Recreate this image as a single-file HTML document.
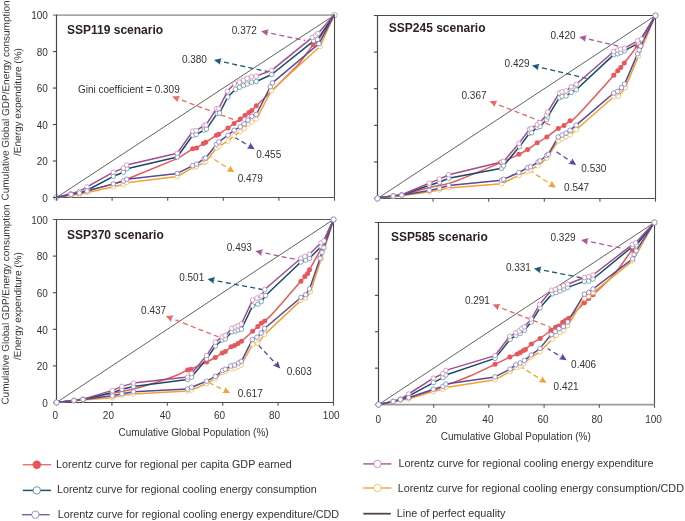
<!DOCTYPE html>
<html><head><meta charset="utf-8"><style>
html,body{margin:0;padding:0;background:#fff;}
body{width:685px;height:521px;overflow:hidden;}
svg{display:block;will-change:transform;}
.t{font-family:"Liberation Sans",sans-serif;font-size:10px;fill:#3b3131;}
.l{font-family:"Liberation Sans",sans-serif;font-size:10.8px;fill:#3b3131;}
.b{font-family:"Liberation Sans",sans-serif;font-size:12px;font-weight:bold;fill:#2e2222;}
</style></head><body>
<svg width="685" height="521" viewBox="0 0 685 521">
<g transform="translate(8.6 200.5) rotate(-89.72)"><text x="0" y="0" class="t">Cumulative Global GDP/Energy consumption</text><text x="44.65" y="12" class="t">/Energy expenditure (%)</text></g>
<g transform="translate(8.6 404.6) rotate(-89.72)"><text x="0" y="0" class="t">Cumulative Global GDP/Energy consumption</text><text x="44.65" y="12" class="t">/Energy expenditure (%)</text></g>
<circle cx="56.5" cy="197.5" r="2.7" fill="#fff" stroke="#8db4c8" stroke-width="0.9"/>
<circle cx="334.5" cy="15.1" r="2.7" fill="#fff" stroke="#8db4c8" stroke-width="0.9"/>
<line x1="56.5" y1="197.5" x2="334.5" y2="15.1" stroke="#3a3a3a" stroke-width="0.8"/>
<line x1="334.5" y1="15.1" x2="334.5" y2="197.5" stroke="#4a4a4a" stroke-width="1.1"/>
<line x1="52.9" y1="15.1" x2="334.5" y2="15.1" stroke="#a8a8a8" stroke-width="1.8"/>
<line x1="56.5" y1="197.5" x2="335" y2="197.5" stroke="#555" stroke-width="1.1"/>
<line x1="56.5" y1="14.6" x2="56.5" y2="198" stroke="#474747" stroke-width="1.2"/>
<line x1="52.9" y1="197.5" x2="56.5" y2="197.5" stroke="#474747" stroke-width="1.1"/>
<line x1="52.9" y1="161.02" x2="56.5" y2="161.02" stroke="#474747" stroke-width="1.1"/>
<line x1="52.9" y1="124.54" x2="56.5" y2="124.54" stroke="#474747" stroke-width="1.1"/>
<line x1="52.9" y1="88.06" x2="56.5" y2="88.06" stroke="#474747" stroke-width="1.1"/>
<line x1="52.9" y1="51.58" x2="56.5" y2="51.58" stroke="#474747" stroke-width="1.1"/>
<line x1="56.5" y1="197.5" x2="56.5" y2="200.7" stroke="#555" stroke-width="1.1"/>
<line x1="112.1" y1="197.5" x2="112.1" y2="200.7" stroke="#555" stroke-width="1.1"/>
<line x1="167.7" y1="197.5" x2="167.7" y2="200.7" stroke="#555" stroke-width="1.1"/>
<line x1="223.3" y1="197.5" x2="223.3" y2="200.7" stroke="#555" stroke-width="1.1"/>
<line x1="278.9" y1="197.5" x2="278.9" y2="200.7" stroke="#555" stroke-width="1.1"/>
<line x1="334.5" y1="197.5" x2="334.5" y2="200.7" stroke="#555" stroke-width="1.1"/>
<text x="47.9" y="201.7" text-anchor="end" class="t">0</text>
<text x="47.9" y="165.22" text-anchor="end" class="t">20</text>
<text x="47.9" y="128.74" text-anchor="end" class="t">40</text>
<text x="47.9" y="92.26" text-anchor="end" class="t">60</text>
<text x="47.9" y="55.78" text-anchor="end" class="t">80</text>
<text x="47.9" y="19.3" text-anchor="end" class="t">100</text>
<text x="67" y="33.7" class="b">SSP119 scenario</text>
<line x1="266.97" y1="32.44" x2="305" y2="40.5" stroke="#b0579b" stroke-width="1.3" stroke-dasharray="5 3.3" stroke-dashoffset="4"/><path d="M261.1 31.2 L268.85 29.37 L266.97 32.44 L267.44 36.02 Z" fill="#b0579b"/>
<text x="231.8" y="33.8" class="t">0.372</text>
<line x1="219.86" y1="61.27" x2="268" y2="71.7" stroke="#1d5878" stroke-width="1.3" stroke-dasharray="5 3.3" stroke-dashoffset="4"/><path d="M214 60 L221.76 58.2 L219.86 61.27 L220.32 64.85 Z" fill="#1d5878"/>
<text x="181.9" y="62.8" class="t">0.380</text>
<line x1="177.82" y1="98.7" x2="240" y2="122" stroke="#ef6666" stroke-width="1.3" stroke-dasharray="5 3.3" stroke-dashoffset="4"/><path d="M172.2 96.6 L180.14 95.94 L177.82 98.7 L177.75 102.31 Z" fill="#ef6666"/>
<text x="77.9" y="92.6" class="t">Gini coefficient = 0.309</text>
<line x1="249.54" y1="146.14" x2="235" y2="137.5" stroke="#4e4c9c" stroke-width="1.3" stroke-dasharray="5 3.3" stroke-dashoffset="4"/><path d="M254.7 149.2 L246.77 148.45 L249.54 146.14 L250.25 142.6 Z" fill="#4e4c9c"/>
<text x="256.2" y="158.2" class="t">0.455</text>
<line x1="229.26" y1="169.04" x2="211" y2="157.2" stroke="#f3a232" stroke-width="1.3" stroke-dasharray="5 3.3" stroke-dashoffset="4"/><path d="M234.3 172.3 L226.41 171.24 L229.26 169.04 L230.11 165.53 Z" fill="#f3a232"/>
<text x="237.7" y="182" class="t">0.479</text>
<polyline fill="none" stroke="#e8585a" stroke-width="1.5" stroke-linejoin="round" points="56.6,197.4 71,194.5 79.4,193 87,191 113.4,183.9 123.4,181 126.6,179.2 177.7,158.4 192.7,148.8 196.5,148 203.4,143.4 205.7,142.3 216.5,135.2 218.8,134.2 228,128 234.1,123.4 240.3,119.1 245.1,115.3 248.9,112.4 251.8,110.5 256.3,105.8 271.7,91 298,65 313.2,44.7 317.5,41.5 334.4,14.6"/>
<polyline fill="none" stroke="#124c6a" stroke-width="1.5" stroke-linejoin="round" points="56.6,197.4 71,194.6 79.4,193 87.7,190 113.4,176.3 123.4,172.2 126.9,168.7 177.3,157 192.7,135.2 196.2,134.6 204.2,130 206.5,129.1 217.2,113.4 219.5,113.1 227.8,97 235.5,89.3 239.6,87.3 243.4,85.5 247.2,84.1 251.6,82.2 256.3,81.5 271.7,74.5 313.7,40.8 317.6,39.5 334.4,14.6"/>
<polyline fill="none" stroke="#a84a8f" stroke-width="1.5" stroke-linejoin="round" points="56.6,197.4 71,193.6 79.4,191.4 87,186.9 113.4,172.2 123.4,168.1 126.6,165 177.3,153.3 192.7,131.1 196.2,130.6 204.2,125.4 206,125 216.5,108.8 218.8,108.5 227.4,91.3 234.4,83.8 239.3,82.1 243.4,80 247.2,78.3 251.6,76.8 256.2,76.1 271.7,70.3 312.3,37.4 315.6,35.5 318,33.6 334.4,14.6"/>
<polyline fill="none" stroke="#f2a22e" stroke-width="1.5" stroke-linejoin="round" points="56.6,197.4 71,195 79.4,194.6 87.7,192.4 113.4,186.8 123.4,184.5 126.6,182.7 177.3,176.6 193.4,167.2 196.5,166.4 204.2,162.6 205.7,161.8 216.5,148 218.8,146.4 228,141.1 234.1,135.7 240.3,131.6 244.1,128.7 248,123.9 251.8,122 256.3,119.3 271.3,90.7 320,46.5 334.4,14.6"/>
<polyline fill="none" stroke="#574a99" stroke-width="1.5" stroke-linejoin="round" points="56.6,197.4 71,194.5 79.4,193 87,191 113.4,183.9 123.4,181 126.6,179.2 177.3,173.4 192.7,165.7 196.5,164.1 204.2,158.7 205.7,158 216.5,144.2 218.8,141.9 228,135.2 234.1,130.3 240.3,126.8 244.1,123.9 248,120.1 251.8,116.2 256.3,114.5 270.3,86.8 272.4,82.9 319,43.7 334.4,14.6"/>
<g fill="#e8585a"><circle cx="192.7" cy="148.8" r="2.5"/><circle cx="196.5" cy="148" r="2.5"/><circle cx="203.4" cy="143.4" r="2.5"/><circle cx="205.7" cy="142.3" r="2.5"/><circle cx="216.5" cy="135.2" r="2.5"/><circle cx="218.8" cy="134.2" r="2.5"/><circle cx="228" cy="128" r="2.5"/><circle cx="234.1" cy="123.4" r="2.5"/><circle cx="240.3" cy="119.1" r="2.5"/><circle cx="245.1" cy="115.3" r="2.5"/><circle cx="248.9" cy="112.4" r="2.5"/><circle cx="251.8" cy="110.5" r="2.5"/><circle cx="256.3" cy="105.8" r="2.5"/><circle cx="313.2" cy="44.7" r="2.5"/><circle cx="317.5" cy="41.5" r="2.5"/></g>
<g fill="#fff" stroke="#5f8ca4" stroke-width="0.75"><circle cx="71" cy="194.6" r="2.3"/><circle cx="79.4" cy="193" r="2.3"/><circle cx="87.7" cy="190" r="2.3"/><circle cx="113.4" cy="176.3" r="2.3"/><circle cx="123.4" cy="172.2" r="2.3"/><circle cx="126.9" cy="168.7" r="2.3"/><circle cx="177.3" cy="157" r="2.3"/><circle cx="192.7" cy="135.2" r="2.3"/><circle cx="196.2" cy="134.6" r="2.3"/><circle cx="204.2" cy="130" r="2.3"/><circle cx="206.5" cy="129.1" r="2.3"/><circle cx="217.2" cy="113.4" r="2.3"/><circle cx="219.5" cy="113.1" r="2.3"/><circle cx="227.8" cy="97" r="2.3"/><circle cx="235.5" cy="89.3" r="2.3"/><circle cx="239.6" cy="87.3" r="2.3"/><circle cx="243.4" cy="85.5" r="2.3"/><circle cx="247.2" cy="84.1" r="2.3"/><circle cx="251.6" cy="82.2" r="2.3"/><circle cx="256.3" cy="81.5" r="2.3"/><circle cx="271.7" cy="74.5" r="2.3"/><circle cx="313.7" cy="40.8" r="2.3"/><circle cx="317.6" cy="39.5" r="2.3"/></g>
<g fill="#fff" stroke="#c585b4" stroke-width="0.75"><circle cx="71" cy="193.6" r="2.3"/><circle cx="79.4" cy="191.4" r="2.3"/><circle cx="87" cy="186.9" r="2.3"/><circle cx="113.4" cy="172.2" r="2.3"/><circle cx="123.4" cy="168.1" r="2.3"/><circle cx="126.6" cy="165" r="2.3"/><circle cx="177.3" cy="153.3" r="2.3"/><circle cx="192.7" cy="131.1" r="2.3"/><circle cx="196.2" cy="130.6" r="2.3"/><circle cx="204.2" cy="125.4" r="2.3"/><circle cx="206" cy="125" r="2.3"/><circle cx="216.5" cy="108.8" r="2.3"/><circle cx="218.8" cy="108.5" r="2.3"/><circle cx="227.4" cy="91.3" r="2.3"/><circle cx="234.4" cy="83.8" r="2.3"/><circle cx="239.3" cy="82.1" r="2.3"/><circle cx="243.4" cy="80" r="2.3"/><circle cx="247.2" cy="78.3" r="2.3"/><circle cx="251.6" cy="76.8" r="2.3"/><circle cx="256.2" cy="76.1" r="2.3"/><circle cx="271.7" cy="70.3" r="2.3"/><circle cx="312.3" cy="37.4" r="2.3"/><circle cx="315.6" cy="35.5" r="2.3"/><circle cx="318" cy="33.6" r="2.3"/></g>
<g fill="#fff" stroke="#f3b860" stroke-width="0.75"><circle cx="71" cy="195" r="2.3"/><circle cx="79.4" cy="194.6" r="2.3"/><circle cx="87.7" cy="192.4" r="2.3"/><circle cx="113.4" cy="186.8" r="2.3"/><circle cx="123.4" cy="184.5" r="2.3"/><circle cx="126.6" cy="182.7" r="2.3"/><circle cx="177.3" cy="176.6" r="2.3"/><circle cx="193.4" cy="167.2" r="2.3"/><circle cx="196.5" cy="166.4" r="2.3"/><circle cx="204.2" cy="162.6" r="2.3"/><circle cx="205.7" cy="161.8" r="2.3"/><circle cx="216.5" cy="148" r="2.3"/><circle cx="218.8" cy="146.4" r="2.3"/><circle cx="228" cy="141.1" r="2.3"/><circle cx="234.1" cy="135.7" r="2.3"/><circle cx="240.3" cy="131.6" r="2.3"/><circle cx="244.1" cy="128.7" r="2.3"/><circle cx="248" cy="123.9" r="2.3"/><circle cx="251.8" cy="122" r="2.3"/><circle cx="256.3" cy="119.3" r="2.3"/><circle cx="271.3" cy="90.7" r="2.3"/><circle cx="320" cy="46.5" r="2.3"/></g>
<g fill="#fff" stroke="#7d74bb" stroke-width="0.75"><circle cx="71" cy="194.5" r="2.3"/><circle cx="79.4" cy="193" r="2.3"/><circle cx="87" cy="191" r="2.3"/><circle cx="113.4" cy="183.9" r="2.3"/><circle cx="123.4" cy="181" r="2.3"/><circle cx="126.6" cy="179.2" r="2.3"/><circle cx="177.3" cy="173.4" r="2.3"/><circle cx="192.7" cy="165.7" r="2.3"/><circle cx="196.5" cy="164.1" r="2.3"/><circle cx="204.2" cy="158.7" r="2.3"/><circle cx="205.7" cy="158" r="2.3"/><circle cx="216.5" cy="144.2" r="2.3"/><circle cx="218.8" cy="141.9" r="2.3"/><circle cx="228" cy="135.2" r="2.3"/><circle cx="234.1" cy="130.3" r="2.3"/><circle cx="240.3" cy="126.8" r="2.3"/><circle cx="244.1" cy="123.9" r="2.3"/><circle cx="248" cy="120.1" r="2.3"/><circle cx="251.8" cy="116.2" r="2.3"/><circle cx="256.3" cy="114.5" r="2.3"/><circle cx="270.3" cy="86.8" r="2.3"/><circle cx="272.4" cy="82.9" r="2.3"/><circle cx="319" cy="43.7" r="2.3"/></g>
<line x1="377.5" y1="198.5" x2="655.5" y2="15.5" stroke="#3a3a3a" stroke-width="0.8"/>
<line x1="655.5" y1="15.5" x2="655.5" y2="198.5" stroke="#4a4a4a" stroke-width="1.1"/>
<line x1="373.9" y1="15.5" x2="655.5" y2="15.5" stroke="#4a4a4a" stroke-width="1.1"/>
<line x1="377.5" y1="198.5" x2="656" y2="198.5" stroke="#555" stroke-width="1.1"/>
<line x1="377.5" y1="15" x2="377.5" y2="199" stroke="#474747" stroke-width="1.2"/>
<line x1="373.9" y1="198.5" x2="377.5" y2="198.5" stroke="#474747" stroke-width="1.1"/>
<line x1="373.9" y1="161.9" x2="377.5" y2="161.9" stroke="#474747" stroke-width="1.1"/>
<line x1="373.9" y1="125.3" x2="377.5" y2="125.3" stroke="#474747" stroke-width="1.1"/>
<line x1="373.9" y1="88.7" x2="377.5" y2="88.7" stroke="#474747" stroke-width="1.1"/>
<line x1="373.9" y1="52.1" x2="377.5" y2="52.1" stroke="#474747" stroke-width="1.1"/>
<line x1="377.5" y1="198.5" x2="377.5" y2="201.7" stroke="#555" stroke-width="1.1"/>
<line x1="433.1" y1="198.5" x2="433.1" y2="201.7" stroke="#555" stroke-width="1.1"/>
<line x1="488.7" y1="198.5" x2="488.7" y2="201.7" stroke="#555" stroke-width="1.1"/>
<line x1="544.3" y1="198.5" x2="544.3" y2="201.7" stroke="#555" stroke-width="1.1"/>
<line x1="599.9" y1="198.5" x2="599.9" y2="201.7" stroke="#555" stroke-width="1.1"/>
<line x1="655.5" y1="198.5" x2="655.5" y2="201.7" stroke="#555" stroke-width="1.1"/>
<text x="388.8" y="32" class="b">SSP245 scenario</text>
<line x1="584.94" y1="38.27" x2="620" y2="46.5" stroke="#b0579b" stroke-width="1.3" stroke-dasharray="5 3.3" stroke-dashoffset="4"/><path d="M579.1 36.9 L586.89 35.24 L584.94 38.27 L585.33 41.86 Z" fill="#b0579b"/>
<text x="550.5" y="39.4" class="t">0.420</text>
<line x1="537.74" y1="66.78" x2="586.5" y2="78.3" stroke="#1d5878" stroke-width="1.3" stroke-dasharray="5 3.3" stroke-dashoffset="4"/><path d="M531.9 65.4 L539.69 63.75 L537.74 66.78 L538.13 70.36 Z" fill="#1d5878"/>
<text x="504.6" y="67.1" class="t">0.429</text>
<line x1="495.09" y1="103.49" x2="553.1" y2="126.2" stroke="#ef6666" stroke-width="1.3" stroke-dasharray="5 3.3" stroke-dashoffset="4"/><path d="M489.5 101.3 L497.44 100.76 L495.09 103.49 L494.96 107.09 Z" fill="#ef6666"/>
<text x="461.5" y="99.2" class="t">0.367</text>
<line x1="571.21" y1="161.67" x2="554.3" y2="150.4" stroke="#4e4c9c" stroke-width="1.3" stroke-dasharray="5 3.3" stroke-dashoffset="4"/><path d="M576.2 165 L568.32 163.84 L571.21 161.67 L572.1 158.18 Z" fill="#4e4c9c"/>
<text x="581.3" y="172.3" class="t">0.530</text>
<line x1="550.81" y1="184.37" x2="531.7" y2="171.6" stroke="#f3a232" stroke-width="1.3" stroke-dasharray="5 3.3" stroke-dashoffset="4"/><path d="M555.8 187.7 L547.92 186.53 L550.81 184.37 L551.7 180.87 Z" fill="#f3a232"/>
<text x="564.1" y="191.3" class="t">0.547</text>
<path fill="none" stroke="#e8585a" stroke-width="1.5" d="M377.4 198 C380.03 197.72 389.15 196.75 393.2 196.3 C397.25 195.85 395.68 196.78 401.7 195.3 C407.72 193.82 421.47 189.37 429.3 187.4 C437.13 185.43 441.92 185.5 448.7 183.5 C455.48 181.5 461.33 178.88 470 175.4 C478.67 171.92 492.55 166.12 500.7 162.6 C508.85 159.08 514.42 156.48 518.9 154.3 C523.38 152.12 524.55 151.42 527.6 149.5 C530.65 147.58 534 144.88 537.2 142.8 C540.4 140.72 543.28 139.4 546.8 137 C550.32 134.6 555.43 130.32 558.3 128.4 C561.17 126.48 562.05 126.78 564 125.5 C565.95 124.22 567.97 122.17 570 120.7 C572.03 119.23 568.9 124.27 576.2 116.7 C583.5 109.13 606.88 82.97 613.8 75.3 C620.72 67.63 616.55 71.98 617.7 70.7 C618.85 69.42 619.6 68.88 620.7 67.6 C621.8 66.32 621.6 66.58 624.3 63 C627 59.42 631.7 54.02 636.9 46.1 C642.1 38.18 652.4 20.6 655.5 15.5"/>
<polyline fill="none" stroke="#124c6a" stroke-width="1.5" stroke-linejoin="round" points="377.4,198 393.2,196 401.7,195 429.3,185.3 439.5,182.3 448.7,178.2 501.7,168.3 503.6,165.8 519.5,146.6 529.5,133.2 531.4,132.6 537.2,127.4 540,126.5 546.4,119.8 547.7,116.9 559.3,97.7 562.1,96.5 566,96 571.2,92.3 576.2,89.8 613.8,54.6 617.7,53.8 620.7,52.5 624.6,50.7 638.4,43.1 655.5,15.5"/>
<polyline fill="none" stroke="#a84a8f" stroke-width="1.5" stroke-linejoin="round" points="377.4,198 393.2,195.8 401.7,194.7 429.3,183.1 439.5,179.1 448.7,174.7 501.7,162 503.6,161.4 518.9,143.4 529.5,129.3 531.4,128.4 537.2,124.5 540,122.6 546.4,115 547.7,112.1 559.3,92.9 562.1,91.9 566,91 571.2,86.8 576.2,84.3 613.8,51.5 617.7,50 620.7,49.2 624.6,48.1 637.6,40.8 641.5,38.9 655.5,15.5"/>
<polyline fill="none" stroke="#f2a22e" stroke-width="1.5" stroke-linejoin="round" points="377.4,198 393.2,196.5 401.7,195.7 429.3,191.8 439.5,189.9 448.7,187.9 501.7,183.7 518.9,175.4 527.6,171.6 530.5,169.7 538.1,165.8 546.8,158.1 558.3,140.9 562.1,138.9 566,137 570,135.1 576.2,129.7 613.8,96.8 618.4,96.4 625.3,87.6 638.4,56.1 655.5,15.5"/>
<polyline fill="none" stroke="#574a99" stroke-width="1.5" stroke-linejoin="round" points="377.4,198 393.2,196 401.7,195.2 429.3,190.4 439.5,188.2 448.7,185.5 501.7,180.2 503.6,179.3 518.9,172.5 527.6,167.7 530.5,166.8 538.1,162 540,161 546.8,155.3 548.3,154.3 558.3,137 562.1,135.1 566,133.2 570,130.3 576.2,125.2 613.8,93 617.7,91.4 621.5,87.6 624.6,84.1 637.6,53.8 639.2,50 640.7,46.1 655.5,15.5"/>
<g fill="#e8585a"><circle cx="500.7" cy="162.6" r="2.5"/><circle cx="518.9" cy="154.3" r="2.5"/><circle cx="527.6" cy="149.5" r="2.5"/><circle cx="537.2" cy="142.8" r="2.5"/><circle cx="546.8" cy="137" r="2.5"/><circle cx="558.3" cy="128.4" r="2.5"/><circle cx="564" cy="125.5" r="2.5"/><circle cx="570" cy="120.7" r="2.5"/><circle cx="613.8" cy="75.3" r="2.5"/><circle cx="617.7" cy="70.7" r="2.5"/><circle cx="620.7" cy="67.6" r="2.5"/><circle cx="624.3" cy="63" r="2.5"/><circle cx="636.9" cy="46.1" r="2.5"/></g>
<g fill="#fff" stroke="#5f8ca4" stroke-width="0.75"><circle cx="393.2" cy="196" r="2.3"/><circle cx="401.7" cy="195" r="2.3"/><circle cx="429.3" cy="185.3" r="2.3"/><circle cx="439.5" cy="182.3" r="2.3"/><circle cx="448.7" cy="178.2" r="2.3"/><circle cx="501.7" cy="168.3" r="2.3"/><circle cx="503.6" cy="165.8" r="2.3"/><circle cx="519.5" cy="146.6" r="2.3"/><circle cx="529.5" cy="133.2" r="2.3"/><circle cx="531.4" cy="132.6" r="2.3"/><circle cx="537.2" cy="127.4" r="2.3"/><circle cx="540" cy="126.5" r="2.3"/><circle cx="546.4" cy="119.8" r="2.3"/><circle cx="547.7" cy="116.9" r="2.3"/><circle cx="559.3" cy="97.7" r="2.3"/><circle cx="562.1" cy="96.5" r="2.3"/><circle cx="566" cy="96" r="2.3"/><circle cx="571.2" cy="92.3" r="2.3"/><circle cx="576.2" cy="89.8" r="2.3"/><circle cx="613.8" cy="54.6" r="2.3"/><circle cx="617.7" cy="53.8" r="2.3"/><circle cx="620.7" cy="52.5" r="2.3"/><circle cx="624.6" cy="50.7" r="2.3"/><circle cx="638.4" cy="43.1" r="2.3"/></g>
<g fill="#fff" stroke="#c585b4" stroke-width="0.75"><circle cx="393.2" cy="195.8" r="2.3"/><circle cx="401.7" cy="194.7" r="2.3"/><circle cx="429.3" cy="183.1" r="2.3"/><circle cx="439.5" cy="179.1" r="2.3"/><circle cx="448.7" cy="174.7" r="2.3"/><circle cx="501.7" cy="162" r="2.3"/><circle cx="503.6" cy="161.4" r="2.3"/><circle cx="518.9" cy="143.4" r="2.3"/><circle cx="529.5" cy="129.3" r="2.3"/><circle cx="531.4" cy="128.4" r="2.3"/><circle cx="537.2" cy="124.5" r="2.3"/><circle cx="540" cy="122.6" r="2.3"/><circle cx="546.4" cy="115" r="2.3"/><circle cx="547.7" cy="112.1" r="2.3"/><circle cx="559.3" cy="92.9" r="2.3"/><circle cx="562.1" cy="91.9" r="2.3"/><circle cx="566" cy="91" r="2.3"/><circle cx="571.2" cy="86.8" r="2.3"/><circle cx="576.2" cy="84.3" r="2.3"/><circle cx="613.8" cy="51.5" r="2.3"/><circle cx="617.7" cy="50" r="2.3"/><circle cx="620.7" cy="49.2" r="2.3"/><circle cx="624.6" cy="48.1" r="2.3"/><circle cx="637.6" cy="40.8" r="2.3"/><circle cx="641.5" cy="38.9" r="2.3"/></g>
<g fill="#fff" stroke="#f3b860" stroke-width="0.75"><circle cx="393.2" cy="196.5" r="2.3"/><circle cx="401.7" cy="195.7" r="2.3"/><circle cx="429.3" cy="191.8" r="2.3"/><circle cx="439.5" cy="189.9" r="2.3"/><circle cx="448.7" cy="187.9" r="2.3"/><circle cx="501.7" cy="183.7" r="2.3"/><circle cx="518.9" cy="175.4" r="2.3"/><circle cx="527.6" cy="171.6" r="2.3"/><circle cx="530.5" cy="169.7" r="2.3"/><circle cx="538.1" cy="165.8" r="2.3"/><circle cx="546.8" cy="158.1" r="2.3"/><circle cx="558.3" cy="140.9" r="2.3"/><circle cx="562.1" cy="138.9" r="2.3"/><circle cx="566" cy="137" r="2.3"/><circle cx="570" cy="135.1" r="2.3"/><circle cx="576.2" cy="129.7" r="2.3"/><circle cx="613.8" cy="96.8" r="2.3"/><circle cx="618.4" cy="96.4" r="2.3"/><circle cx="625.3" cy="87.6" r="2.3"/><circle cx="638.4" cy="56.1" r="2.3"/></g>
<g fill="#fff" stroke="#7d74bb" stroke-width="0.75"><circle cx="393.2" cy="196" r="2.3"/><circle cx="401.7" cy="195.2" r="2.3"/><circle cx="429.3" cy="190.4" r="2.3"/><circle cx="439.5" cy="188.2" r="2.3"/><circle cx="448.7" cy="185.5" r="2.3"/><circle cx="501.7" cy="180.2" r="2.3"/><circle cx="503.6" cy="179.3" r="2.3"/><circle cx="518.9" cy="172.5" r="2.3"/><circle cx="527.6" cy="167.7" r="2.3"/><circle cx="530.5" cy="166.8" r="2.3"/><circle cx="538.1" cy="162" r="2.3"/><circle cx="540" cy="161" r="2.3"/><circle cx="546.8" cy="155.3" r="2.3"/><circle cx="548.3" cy="154.3" r="2.3"/><circle cx="558.3" cy="137" r="2.3"/><circle cx="562.1" cy="135.1" r="2.3"/><circle cx="566" cy="133.2" r="2.3"/><circle cx="570" cy="130.3" r="2.3"/><circle cx="576.2" cy="125.2" r="2.3"/><circle cx="613.8" cy="93" r="2.3"/><circle cx="617.7" cy="91.4" r="2.3"/><circle cx="621.5" cy="87.6" r="2.3"/><circle cx="624.6" cy="84.1" r="2.3"/><circle cx="637.6" cy="53.8" r="2.3"/><circle cx="639.2" cy="50" r="2.3"/><circle cx="640.7" cy="46.1" r="2.3"/></g>
<circle cx="377.5" cy="198.5" r="2.7" fill="#fff" stroke="#7f77bd" stroke-width="0.9"/>
<circle cx="655.5" cy="15.5" r="2.7" fill="#fff" stroke="#7f77bd" stroke-width="0.9"/>
<line x1="56.5" y1="402.5" x2="333.5" y2="219.5" stroke="#3a3a3a" stroke-width="0.8"/>
<line x1="333.5" y1="219.5" x2="333.5" y2="402.5" stroke="#4a4a4a" stroke-width="1.1"/>
<line x1="52.9" y1="219.5" x2="333.5" y2="219.5" stroke="#5a5a5a" stroke-width="1.2"/>
<line x1="56.5" y1="402.5" x2="334" y2="402.5" stroke="#444" stroke-width="1.1"/>
<line x1="56.5" y1="219" x2="56.5" y2="403" stroke="#474747" stroke-width="1.2"/>
<line x1="52.9" y1="402.5" x2="56.5" y2="402.5" stroke="#474747" stroke-width="1.1"/>
<line x1="52.9" y1="365.9" x2="56.5" y2="365.9" stroke="#474747" stroke-width="1.1"/>
<line x1="52.9" y1="329.3" x2="56.5" y2="329.3" stroke="#474747" stroke-width="1.1"/>
<line x1="52.9" y1="292.7" x2="56.5" y2="292.7" stroke="#474747" stroke-width="1.1"/>
<line x1="52.9" y1="256.1" x2="56.5" y2="256.1" stroke="#474747" stroke-width="1.1"/>
<line x1="56.5" y1="402.5" x2="56.5" y2="405.7" stroke="#555" stroke-width="1.1"/>
<line x1="111.9" y1="402.5" x2="111.9" y2="405.7" stroke="#555" stroke-width="1.1"/>
<line x1="167.3" y1="402.5" x2="167.3" y2="405.7" stroke="#555" stroke-width="1.1"/>
<line x1="222.7" y1="402.5" x2="222.7" y2="405.7" stroke="#555" stroke-width="1.1"/>
<line x1="278.1" y1="402.5" x2="278.1" y2="405.7" stroke="#555" stroke-width="1.1"/>
<line x1="333.5" y1="402.5" x2="333.5" y2="405.7" stroke="#555" stroke-width="1.1"/>
<text x="47.9" y="406.7" text-anchor="end" class="t">0</text>
<text x="47.9" y="370.1" text-anchor="end" class="t">20</text>
<text x="47.9" y="333.5" text-anchor="end" class="t">40</text>
<text x="47.9" y="296.9" text-anchor="end" class="t">60</text>
<text x="47.9" y="260.3" text-anchor="end" class="t">80</text>
<text x="47.9" y="223.7" text-anchor="end" class="t">100</text>
<text x="55.4" y="419.4" text-anchor="middle" class="t">0</text>
<text x="108.4" y="419.4" text-anchor="middle" class="t">20</text>
<text x="165.2" y="419.4" text-anchor="middle" class="t">40</text>
<text x="219.6" y="419.4" text-anchor="middle" class="t">60</text>
<text x="274.6" y="419.4" text-anchor="middle" class="t">80</text>
<text x="331.2" y="419.4" text-anchor="middle" class="t">100</text>
<text x="193.6" y="436.3" text-anchor="middle" class="t">Cumulative Global Population (%)</text>
<text x="67" y="238.7" class="b">SSP370 scenario</text>
<line x1="261.18" y1="252.31" x2="297.5" y2="259.8" stroke="#b0579b" stroke-width="1.3" stroke-dasharray="5 3.3" stroke-dashoffset="4"/><path d="M255.3 251.1 L263.04 249.22 L261.18 252.31 L261.67 255.88 Z" fill="#b0579b"/>
<text x="226.8" y="251" class="t">0.493</text>
<line x1="213.39" y1="280.22" x2="262.8" y2="289.6" stroke="#1d5878" stroke-width="1.3" stroke-dasharray="5 3.3" stroke-dashoffset="4"/><path d="M207.5 279.1 L215.21 277.1 L213.39 280.22 L213.94 283.78 Z" fill="#1d5878"/>
<text x="179.2" y="281" class="t">0.501</text>
<line x1="171.38" y1="318.31" x2="226.5" y2="340.1" stroke="#ef6666" stroke-width="1.3" stroke-dasharray="5 3.3" stroke-dashoffset="4"/><path d="M165.8 316.1 L173.75 315.59 L171.38 318.31 L171.25 321.91 Z" fill="#ef6666"/>
<text x="141.1" y="314" class="t">0.437</text>
<line x1="276.2" y1="364.12" x2="258.6" y2="345.3" stroke="#4e4c9c" stroke-width="1.3" stroke-dasharray="5 3.3" stroke-dashoffset="4"/><path d="M280.3 368.5 L272.9 365.56 L276.2 364.12 L277.86 360.92 Z" fill="#4e4c9c"/>
<text x="286.7" y="375" class="t">0.603</text>
<line x1="224.81" y1="390.46" x2="209.6" y2="383" stroke="#f3a232" stroke-width="1.3" stroke-dasharray="5 3.3" stroke-dashoffset="4"/><path d="M230.2 393.1 L222.24 392.98 L224.81 390.46 L225.23 386.88 Z" fill="#f3a232"/>
<text x="237.7" y="396.6" class="t">0.617</text>
<path fill="none" stroke="#e8585a" stroke-width="1.5" d="M56.8 402.6 C59.67 402.25 69.63 401.02 74 400.5 C78.37 399.98 76.6 400.7 83 399.5 C89.4 398.3 104 395.05 112.4 393.3 C120.8 391.55 127.4 390.42 133.4 389 C139.4 387.58 144.18 386.03 148.4 384.8 C152.62 383.57 155.28 382.68 158.7 381.6 C162.12 380.52 165.5 379.52 168.9 378.3 C172.3 377.08 175.98 375.7 179.1 374.3 C182.22 372.9 185.67 370.75 187.6 369.9 C189.53 369.05 187.53 370.5 190.7 369.2 C193.87 367.9 202.5 364.05 206.6 362.1 C210.7 360.15 212.7 359.02 215.3 357.5 C217.9 355.98 220.53 354 222.2 353 C223.87 352 223.83 352.53 225.3 351.5 C226.77 350.47 229.47 347.8 231 346.8 C232.53 345.8 233.33 346.07 234.5 345.5 C235.67 344.93 236.85 344.1 238 343.4 C239.15 342.7 238.97 343.32 241.4 341.3 C243.83 339.28 249.87 333.75 252.6 331.3 C255.33 328.85 256.35 327.95 257.8 326.6 C259.25 325.25 260.15 324.12 261.3 323.2 C262.45 322.28 262.42 323.13 264.7 321.1 C266.98 319.07 268.97 317.65 275 311 C281.03 304.35 295.93 286.97 300.9 281.2 C305.87 275.43 303.68 277.68 304.8 276.4 C305.92 275.12 306.82 274.62 307.6 273.5 C308.38 272.38 307.1 274.17 309.5 269.7 C311.9 265.23 317.97 255.08 322 246.7 C326.03 238.32 331.75 223.95 333.7 219.4"/>
<polyline fill="none" stroke="#124c6a" stroke-width="1.5" stroke-linejoin="round" points="56.8,402.6 74,400.5 83,399.5 112.4,392.6 121.9,389.3 133.4,386.4 187.6,379.6 191.5,377.1 206.6,359 215.3,346.1 222.2,340 225.3,339 231.9,331.8 235.4,331 238,330 241.4,329.2 252.6,305.9 257.8,304.2 261.3,301.6 265.6,295.5 300.9,262 305.7,260.1 309.5,258.2 321.1,246.7 333.7,219.4"/>
<polyline fill="none" stroke="#a84a8f" stroke-width="1.5" stroke-linejoin="round" points="56.8,402.6 74,400.3 83,399.1 112.4,390.4 121.9,386.4 133.4,383.1 187.6,377.1 191.5,373.5 206.6,355.6 215.3,342.2 222.2,336.9 225.3,335.4 231.9,328.4 235.4,327 238,325.8 241.4,324 252.6,299.9 257,298.1 261.3,295.9 264.7,289.5 300.9,258.2 304.8,256.3 309.5,254.3 321.1,242.8 323.9,240.9 333.7,219.4"/>
<polyline fill="none" stroke="#f2a22e" stroke-width="1.5" stroke-linejoin="round" points="56.8,402.6 74,400.8 83,400 112.4,397.7 121.9,395.2 133.4,394 187.6,391 191.5,390 206.6,383.6 215.3,378.7 222.5,372.5 225.3,371.5 231.3,369 235,368 238.5,366.5 241.2,365 252.8,344.2 257.8,343.3 264.5,334.6 300.9,300.4 305.7,298 310.5,291.8 321.1,259.1 333.7,219.4"/>
<polyline fill="none" stroke="#574a99" stroke-width="1.5" stroke-linejoin="round" points="56.8,402.6 74,400.5 83,399.5 112.4,395.8 121.9,393.7 133.4,391.8 187.6,389.1 191.5,387.3 206.6,381.2 215.3,376.4 222.5,370.5 225.3,369.3 230.8,366 234.5,365 238.5,362.9 241.4,361.3 252.4,339.6 257,337.2 261.2,333 264.5,328.5 300.9,297.5 305.7,294.7 309.5,288.9 320.1,258.2 322,252.4 323.9,247.6 333.7,219.4"/>
<g fill="#e8585a"><circle cx="187.6" cy="369.9" r="2.5"/><circle cx="190.7" cy="369.2" r="2.5"/><circle cx="206.6" cy="362.1" r="2.5"/><circle cx="215.3" cy="357.5" r="2.5"/><circle cx="222.2" cy="353" r="2.5"/><circle cx="225.3" cy="351.5" r="2.5"/><circle cx="231" cy="346.8" r="2.5"/><circle cx="234.5" cy="345.5" r="2.5"/><circle cx="238" cy="343.4" r="2.5"/><circle cx="241.4" cy="341.3" r="2.5"/><circle cx="252.6" cy="331.3" r="2.5"/><circle cx="257.8" cy="326.6" r="2.5"/><circle cx="261.3" cy="323.2" r="2.5"/><circle cx="264.7" cy="321.1" r="2.5"/><circle cx="300.9" cy="281.2" r="2.5"/><circle cx="304.8" cy="276.4" r="2.5"/><circle cx="307.6" cy="273.5" r="2.5"/><circle cx="309.5" cy="269.7" r="2.5"/><circle cx="322" cy="246.7" r="2.5"/></g>
<g fill="#fff" stroke="#5f8ca4" stroke-width="0.75"><circle cx="74" cy="400.5" r="2.3"/><circle cx="83" cy="399.5" r="2.3"/><circle cx="112.4" cy="392.6" r="2.3"/><circle cx="121.9" cy="389.3" r="2.3"/><circle cx="133.4" cy="386.4" r="2.3"/><circle cx="187.6" cy="379.6" r="2.3"/><circle cx="191.5" cy="377.1" r="2.3"/><circle cx="206.6" cy="359" r="2.3"/><circle cx="215.3" cy="346.1" r="2.3"/><circle cx="222.2" cy="340" r="2.3"/><circle cx="225.3" cy="339" r="2.3"/><circle cx="231.9" cy="331.8" r="2.3"/><circle cx="235.4" cy="331" r="2.3"/><circle cx="238" cy="330" r="2.3"/><circle cx="241.4" cy="329.2" r="2.3"/><circle cx="252.6" cy="305.9" r="2.3"/><circle cx="257.8" cy="304.2" r="2.3"/><circle cx="261.3" cy="301.6" r="2.3"/><circle cx="265.6" cy="295.5" r="2.3"/><circle cx="300.9" cy="262" r="2.3"/><circle cx="305.7" cy="260.1" r="2.3"/><circle cx="309.5" cy="258.2" r="2.3"/><circle cx="321.1" cy="246.7" r="2.3"/></g>
<g fill="#fff" stroke="#c585b4" stroke-width="0.75"><circle cx="74" cy="400.3" r="2.3"/><circle cx="83" cy="399.1" r="2.3"/><circle cx="112.4" cy="390.4" r="2.3"/><circle cx="121.9" cy="386.4" r="2.3"/><circle cx="133.4" cy="383.1" r="2.3"/><circle cx="187.6" cy="377.1" r="2.3"/><circle cx="191.5" cy="373.5" r="2.3"/><circle cx="206.6" cy="355.6" r="2.3"/><circle cx="215.3" cy="342.2" r="2.3"/><circle cx="222.2" cy="336.9" r="2.3"/><circle cx="225.3" cy="335.4" r="2.3"/><circle cx="231.9" cy="328.4" r="2.3"/><circle cx="235.4" cy="327" r="2.3"/><circle cx="238" cy="325.8" r="2.3"/><circle cx="241.4" cy="324" r="2.3"/><circle cx="252.6" cy="299.9" r="2.3"/><circle cx="257" cy="298.1" r="2.3"/><circle cx="261.3" cy="295.9" r="2.3"/><circle cx="264.7" cy="289.5" r="2.3"/><circle cx="300.9" cy="258.2" r="2.3"/><circle cx="304.8" cy="256.3" r="2.3"/><circle cx="309.5" cy="254.3" r="2.3"/><circle cx="321.1" cy="242.8" r="2.3"/><circle cx="323.9" cy="240.9" r="2.3"/></g>
<g fill="#fff" stroke="#f3b860" stroke-width="0.75"><circle cx="74" cy="400.8" r="2.3"/><circle cx="83" cy="400" r="2.3"/><circle cx="112.4" cy="397.7" r="2.3"/><circle cx="121.9" cy="395.2" r="2.3"/><circle cx="133.4" cy="394" r="2.3"/><circle cx="187.6" cy="391" r="2.3"/><circle cx="191.5" cy="390" r="2.3"/><circle cx="206.6" cy="383.6" r="2.3"/><circle cx="215.3" cy="378.7" r="2.3"/><circle cx="222.5" cy="372.5" r="2.3"/><circle cx="225.3" cy="371.5" r="2.3"/><circle cx="231.3" cy="369" r="2.3"/><circle cx="235" cy="368" r="2.3"/><circle cx="238.5" cy="366.5" r="2.3"/><circle cx="241.2" cy="365" r="2.3"/><circle cx="252.8" cy="344.2" r="2.3"/><circle cx="257.8" cy="343.3" r="2.3"/><circle cx="264.5" cy="334.6" r="2.3"/><circle cx="300.9" cy="300.4" r="2.3"/><circle cx="305.7" cy="298" r="2.3"/><circle cx="310.5" cy="291.8" r="2.3"/><circle cx="321.1" cy="259.1" r="2.3"/></g>
<g fill="#fff" stroke="#7d74bb" stroke-width="0.75"><circle cx="74" cy="400.5" r="2.3"/><circle cx="83" cy="399.5" r="2.3"/><circle cx="112.4" cy="395.8" r="2.3"/><circle cx="121.9" cy="393.7" r="2.3"/><circle cx="133.4" cy="391.8" r="2.3"/><circle cx="187.6" cy="389.1" r="2.3"/><circle cx="191.5" cy="387.3" r="2.3"/><circle cx="206.6" cy="381.2" r="2.3"/><circle cx="215.3" cy="376.4" r="2.3"/><circle cx="222.5" cy="370.5" r="2.3"/><circle cx="225.3" cy="369.3" r="2.3"/><circle cx="230.8" cy="366" r="2.3"/><circle cx="234.5" cy="365" r="2.3"/><circle cx="238.5" cy="362.9" r="2.3"/><circle cx="241.4" cy="361.3" r="2.3"/><circle cx="252.4" cy="339.6" r="2.3"/><circle cx="257" cy="337.2" r="2.3"/><circle cx="261.2" cy="333" r="2.3"/><circle cx="264.5" cy="328.5" r="2.3"/><circle cx="300.9" cy="297.5" r="2.3"/><circle cx="305.7" cy="294.7" r="2.3"/><circle cx="309.5" cy="288.9" r="2.3"/><circle cx="320.1" cy="258.2" r="2.3"/><circle cx="322" cy="252.4" r="2.3"/><circle cx="323.9" cy="247.6" r="2.3"/></g>
<circle cx="56.5" cy="402.5" r="2.7" fill="#fff" stroke="#7f77bd" stroke-width="0.9"/>
<circle cx="333.5" cy="219.5" r="2.7" fill="#fff" stroke="#7f77bd" stroke-width="0.9"/>
<line x1="378.5" y1="404.6" x2="654.5" y2="222.5" stroke="#3a3a3a" stroke-width="0.8"/>
<line x1="654.5" y1="222.5" x2="654.5" y2="404.6" stroke="#4a4a4a" stroke-width="1.1"/>
<line x1="374.9" y1="222.5" x2="654.5" y2="222.5" stroke="#505050" stroke-width="1.2"/>
<line x1="378.5" y1="404.6" x2="655" y2="404.6" stroke="#9a9a9a" stroke-width="1.6"/>
<line x1="378.5" y1="222" x2="378.5" y2="405.1" stroke="#474747" stroke-width="1.2"/>
<line x1="374.9" y1="404.6" x2="378.5" y2="404.6" stroke="#474747" stroke-width="1.1"/>
<line x1="374.9" y1="368.18" x2="378.5" y2="368.18" stroke="#474747" stroke-width="1.1"/>
<line x1="374.9" y1="331.76" x2="378.5" y2="331.76" stroke="#474747" stroke-width="1.1"/>
<line x1="374.9" y1="295.34" x2="378.5" y2="295.34" stroke="#474747" stroke-width="1.1"/>
<line x1="374.9" y1="258.92" x2="378.5" y2="258.92" stroke="#474747" stroke-width="1.1"/>
<line x1="378.5" y1="404.6" x2="378.5" y2="407.8" stroke="#555" stroke-width="1.1"/>
<line x1="433.7" y1="404.6" x2="433.7" y2="407.8" stroke="#555" stroke-width="1.1"/>
<line x1="488.9" y1="404.6" x2="488.9" y2="407.8" stroke="#555" stroke-width="1.1"/>
<line x1="544.1" y1="404.6" x2="544.1" y2="407.8" stroke="#555" stroke-width="1.1"/>
<line x1="599.3" y1="404.6" x2="599.3" y2="407.8" stroke="#555" stroke-width="1.1"/>
<line x1="654.5" y1="404.6" x2="654.5" y2="407.8" stroke="#555" stroke-width="1.1"/>
<text x="378.4" y="422.8" text-anchor="middle" class="t">0</text>
<text x="431.3" y="422.8" text-anchor="middle" class="t">20</text>
<text x="487.9" y="422.8" text-anchor="middle" class="t">40</text>
<text x="543.1" y="422.8" text-anchor="middle" class="t">60</text>
<text x="597.1" y="422.8" text-anchor="middle" class="t">80</text>
<text x="653.5" y="422.8" text-anchor="middle" class="t">100</text>
<text x="515.8" y="439.9" text-anchor="middle" class="t">Cumulative Global Population (%)</text>
<text x="391" y="241.4" class="b">SSP585 scenario</text>
<line x1="586.88" y1="241.1" x2="623.7" y2="248.6" stroke="#b0579b" stroke-width="1.3" stroke-dasharray="5 3.3" stroke-dashoffset="4"/><path d="M581 239.9 L588.73 238.01 L586.88 241.1 L587.38 244.67 Z" fill="#b0579b"/>
<text x="550.5" y="241" class="t">0.329</text>
<line x1="539.79" y1="269.56" x2="584" y2="278.3" stroke="#1d5878" stroke-width="1.3" stroke-dasharray="5 3.3" stroke-dashoffset="4"/><path d="M533.9 268.4 L541.62 266.46 L539.79 269.56 L540.3 273.13 Z" fill="#1d5878"/>
<text x="505.9" y="271.3" class="t">0.331</text>
<line x1="498.09" y1="306.69" x2="550.6" y2="327.3" stroke="#ef6666" stroke-width="1.3" stroke-dasharray="5 3.3" stroke-dashoffset="4"/><path d="M492.5 304.5 L500.44 303.97 L498.09 306.69 L497.96 310.3 Z" fill="#ef6666"/>
<text x="464.9" y="304.3" class="t">0.291</text>
<line x1="561.58" y1="357.08" x2="547.5" y2="348.5" stroke="#4e4c9c" stroke-width="1.3" stroke-dasharray="5 3.3" stroke-dashoffset="4"/><path d="M566.7 360.2 L558.78 359.36 L561.58 357.08 L562.32 353.55 Z" fill="#4e4c9c"/>
<text x="571.1" y="367.6" class="t">0.406</text>
<line x1="541.45" y1="379.86" x2="522.3" y2="367.6" stroke="#f3a232" stroke-width="1.3" stroke-dasharray="5 3.3" stroke-dashoffset="4"/><path d="M546.5 383.1 L538.6 382.08 L541.45 379.86 L542.27 376.35 Z" fill="#f3a232"/>
<text x="553.6" y="389.8" class="t">0.421</text>
<path fill="none" stroke="#e8585a" stroke-width="1.5" d="M378.7 404.6 C381.12 404.17 389.57 402.77 393.2 402 C396.83 401.23 397.93 400.67 400.5 400 C403.07 399.33 403.12 399.6 408.6 398 C414.08 396.4 427.2 392.52 433.4 390.4 C439.6 388.28 439.7 387.7 445.8 385.3 C451.9 382.9 461.78 379.52 470 376 C478.22 372.48 488.47 367.35 495.1 364.2 C501.73 361.05 506.1 358.78 509.8 357.1 C513.5 355.42 515.55 354.87 517.3 354.1 C519.05 353.33 519.3 353.1 520.3 352.5 C521.3 351.9 522.45 351 523.3 350.5 C524.15 350 524.05 350.58 525.4 349.5 C526.75 348.42 528.95 345.85 531.4 344 C533.85 342.15 536.83 340.68 540.1 338.4 C543.37 336.12 548.42 332.15 551 330.3 C553.58 328.45 554.33 328.03 555.6 327.3 C556.87 326.57 557.42 326.73 558.6 325.9 C559.78 325.07 561.52 323.25 562.7 322.3 C563.88 321.35 564.7 320.88 565.7 320.2 C566.7 319.52 565.58 321.12 568.7 318.2 C571.82 315.28 581.07 306 584.4 302.7 C587.73 299.4 587.27 299.72 588.7 298.4 C590.13 297.08 588.78 298.78 593 294.8 C597.22 290.82 607.53 281.9 614 274.5 C620.47 267.1 625.08 259.07 631.8 250.4 C638.52 241.73 650.55 227.15 654.3 222.5"/>
<polyline fill="none" stroke="#124c6a" stroke-width="1.5" stroke-linejoin="round" points="378.7,404.6 393.2,401.5 400.5,399.5 408.6,396.2 433.4,382.6 442.9,377.7 445.8,375 495,358.4 510.1,339.4 515.8,335.4 520,333.5 524.4,330.2 531.3,322.1 540,307.8 552.3,293.8 556.1,292.6 560,291 564,289 567.6,287.4 584.4,281.4 588.7,281.1 593,279 632.6,246.5 636.5,245 654.3,222.5"/>
<polyline fill="none" stroke="#a84a8f" stroke-width="1.5" stroke-linejoin="round" points="378.7,404.6 393.2,401.3 400.5,399.1 408.6,394 433.4,378.2 442.9,373.6 445.8,370.4 495,355.6 509.7,336.3 515.8,332.8 519.2,331.1 521.8,328.5 524.4,326.8 531.3,319 539.5,304.5 551.3,290.3 555.2,289.3 559.5,287.5 563.5,285.8 567.6,284.2 584.4,277.5 588.7,276.8 593,275 632.6,244.4 635.5,242.9 654.3,222.5"/>
<polyline fill="none" stroke="#f2a22e" stroke-width="1.5" stroke-linejoin="round" points="378.7,404.6 393.2,401.8 400.5,400 408.6,399.1 433.4,391.4 442.9,389.3 445.8,387.4 495,379.8 510.1,371.7 516.6,367.7 520,366 523.5,363.9 531.3,357 540,351.8 552.3,339.3 556.1,335.4 560,332.5 563.8,330.6 567.6,325.8 584.4,298.4 588.7,296.2 593,292.6 632.6,260.9 654.3,222.5"/>
<polyline fill="none" stroke="#574a99" stroke-width="1.5" stroke-linejoin="round" points="378.7,404.6 393.2,401.5 400.5,399.5 408.6,397.7 433.4,389.3 442.9,386.4 445.8,384.1 495,376.9 510.1,369.1 515.8,364.8 520.1,363 524.4,360.4 531.3,354.9 540,348.4 551.3,334.5 555.2,331.6 559,328.7 563.4,326.4 567.6,322 584.4,294.1 588.7,292.6 593,289 632.6,258.8 634.1,254.5 636.2,250.8 654.3,222.5"/>
<g fill="#e8585a"><circle cx="495.1" cy="364.2" r="2.5"/><circle cx="509.8" cy="357.1" r="2.5"/><circle cx="517.3" cy="354.1" r="2.5"/><circle cx="520.3" cy="352.5" r="2.5"/><circle cx="523.3" cy="350.5" r="2.5"/><circle cx="525.4" cy="349.5" r="2.5"/><circle cx="531.4" cy="344" r="2.5"/><circle cx="540.1" cy="338.4" r="2.5"/><circle cx="551" cy="330.3" r="2.5"/><circle cx="555.6" cy="327.3" r="2.5"/><circle cx="558.6" cy="325.9" r="2.5"/><circle cx="562.7" cy="322.3" r="2.5"/><circle cx="565.7" cy="320.2" r="2.5"/><circle cx="568.7" cy="318.2" r="2.5"/><circle cx="584.4" cy="302.7" r="2.5"/><circle cx="588.7" cy="298.4" r="2.5"/><circle cx="593" cy="294.8" r="2.5"/><circle cx="632.6" cy="250.1" r="2.5"/></g>
<g fill="#fff" stroke="#5f8ca4" stroke-width="0.75"><circle cx="393.2" cy="401.5" r="2.3"/><circle cx="400.5" cy="399.5" r="2.3"/><circle cx="408.6" cy="396.2" r="2.3"/><circle cx="433.4" cy="382.6" r="2.3"/><circle cx="442.9" cy="377.7" r="2.3"/><circle cx="445.8" cy="375" r="2.3"/><circle cx="495" cy="358.4" r="2.3"/><circle cx="510.1" cy="339.4" r="2.3"/><circle cx="515.8" cy="335.4" r="2.3"/><circle cx="520" cy="333.5" r="2.3"/><circle cx="524.4" cy="330.2" r="2.3"/><circle cx="531.3" cy="322.1" r="2.3"/><circle cx="540" cy="307.8" r="2.3"/><circle cx="552.3" cy="293.8" r="2.3"/><circle cx="556.1" cy="292.6" r="2.3"/><circle cx="560" cy="291" r="2.3"/><circle cx="564" cy="289" r="2.3"/><circle cx="567.6" cy="287.4" r="2.3"/><circle cx="584.4" cy="281.4" r="2.3"/><circle cx="588.7" cy="281.1" r="2.3"/><circle cx="593" cy="279" r="2.3"/><circle cx="632.6" cy="246.5" r="2.3"/><circle cx="636.5" cy="245" r="2.3"/></g>
<g fill="#fff" stroke="#c585b4" stroke-width="0.75"><circle cx="393.2" cy="401.3" r="2.3"/><circle cx="400.5" cy="399.1" r="2.3"/><circle cx="408.6" cy="394" r="2.3"/><circle cx="433.4" cy="378.2" r="2.3"/><circle cx="442.9" cy="373.6" r="2.3"/><circle cx="445.8" cy="370.4" r="2.3"/><circle cx="495" cy="355.6" r="2.3"/><circle cx="509.7" cy="336.3" r="2.3"/><circle cx="515.8" cy="332.8" r="2.3"/><circle cx="519.2" cy="331.1" r="2.3"/><circle cx="521.8" cy="328.5" r="2.3"/><circle cx="524.4" cy="326.8" r="2.3"/><circle cx="531.3" cy="319" r="2.3"/><circle cx="539.5" cy="304.5" r="2.3"/><circle cx="551.3" cy="290.3" r="2.3"/><circle cx="555.2" cy="289.3" r="2.3"/><circle cx="559.5" cy="287.5" r="2.3"/><circle cx="563.5" cy="285.8" r="2.3"/><circle cx="567.6" cy="284.2" r="2.3"/><circle cx="584.4" cy="277.5" r="2.3"/><circle cx="588.7" cy="276.8" r="2.3"/><circle cx="593" cy="275" r="2.3"/><circle cx="632.6" cy="244.4" r="2.3"/><circle cx="635.5" cy="242.9" r="2.3"/></g>
<g fill="#fff" stroke="#f3b860" stroke-width="0.75"><circle cx="393.2" cy="401.8" r="2.3"/><circle cx="400.5" cy="400" r="2.3"/><circle cx="408.6" cy="399.1" r="2.3"/><circle cx="433.4" cy="391.4" r="2.3"/><circle cx="442.9" cy="389.3" r="2.3"/><circle cx="445.8" cy="387.4" r="2.3"/><circle cx="495" cy="379.8" r="2.3"/><circle cx="510.1" cy="371.7" r="2.3"/><circle cx="516.6" cy="367.7" r="2.3"/><circle cx="520" cy="366" r="2.3"/><circle cx="523.5" cy="363.9" r="2.3"/><circle cx="531.3" cy="357" r="2.3"/><circle cx="540" cy="351.8" r="2.3"/><circle cx="552.3" cy="339.3" r="2.3"/><circle cx="556.1" cy="335.4" r="2.3"/><circle cx="560" cy="332.5" r="2.3"/><circle cx="563.8" cy="330.6" r="2.3"/><circle cx="567.6" cy="325.8" r="2.3"/><circle cx="584.4" cy="298.4" r="2.3"/><circle cx="588.7" cy="296.2" r="2.3"/><circle cx="593" cy="292.6" r="2.3"/><circle cx="632.6" cy="260.9" r="2.3"/></g>
<g fill="#fff" stroke="#7d74bb" stroke-width="0.75"><circle cx="393.2" cy="401.5" r="2.3"/><circle cx="400.5" cy="399.5" r="2.3"/><circle cx="408.6" cy="397.7" r="2.3"/><circle cx="433.4" cy="389.3" r="2.3"/><circle cx="442.9" cy="386.4" r="2.3"/><circle cx="445.8" cy="384.1" r="2.3"/><circle cx="495" cy="376.9" r="2.3"/><circle cx="510.1" cy="369.1" r="2.3"/><circle cx="515.8" cy="364.8" r="2.3"/><circle cx="520.1" cy="363" r="2.3"/><circle cx="524.4" cy="360.4" r="2.3"/><circle cx="531.3" cy="354.9" r="2.3"/><circle cx="540" cy="348.4" r="2.3"/><circle cx="551.3" cy="334.5" r="2.3"/><circle cx="555.2" cy="331.6" r="2.3"/><circle cx="559" cy="328.7" r="2.3"/><circle cx="563.4" cy="326.4" r="2.3"/><circle cx="567.6" cy="322" r="2.3"/><circle cx="584.4" cy="294.1" r="2.3"/><circle cx="588.7" cy="292.6" r="2.3"/><circle cx="593" cy="289" r="2.3"/><circle cx="632.6" cy="258.8" r="2.3"/><circle cx="634.1" cy="254.5" r="2.3"/><circle cx="636.2" cy="250.8" r="2.3"/></g>
<circle cx="378.5" cy="404.6" r="2.7" fill="#fff" stroke="#7f77bd" stroke-width="0.9"/>
<circle cx="654.5" cy="222.5" r="2.7" fill="#fff" stroke="#7f77bd" stroke-width="0.9"/>
<line x1="22.8" y1="464.7" x2="51" y2="464.7" stroke="#ee7070" stroke-width="1.4"/>
<circle cx="36.8" cy="464.7" r="4.2" fill="#e45658"/>
<text x="56.1" y="467.9" class="l">Lorentz curve for regional per capita GDP earned</text>
<line x1="22.8" y1="490.4" x2="51" y2="490.4" stroke="#1a5474" stroke-width="1.5"/>
<circle cx="36.8" cy="490.4" r="3.7" fill="#fff" stroke="#3f7f9a" stroke-width="0.8"/>
<text x="57" y="493" class="l">Lorentz curve for regional cooling energy consumption</text>
<line x1="21.9" y1="514.7" x2="49.7" y2="514.7" stroke="#6a6aaa" stroke-width="1.4"/>
<circle cx="35.4" cy="514.7" r="3.7" fill="#fff" stroke="#7a7ab8" stroke-width="0.8"/>
<text x="57.7" y="518.3" class="l">Lorentz curve for regional cooling energy expenditure/CDD</text>
<line x1="363.3" y1="463.9" x2="391.4" y2="463.9" stroke="#b05a9c" stroke-width="1.5"/>
<circle cx="377.5" cy="463.9" r="3.7" fill="#fff" stroke="#c37ab0" stroke-width="0.8"/>
<text x="398.4" y="466.6" class="l">Lorentz curve for regional cooling energy expenditure</text>
<line x1="363.3" y1="488" x2="391.4" y2="488" stroke="#f2a23a" stroke-width="1.4"/>
<circle cx="377.5" cy="488" r="3.7" fill="#fff" stroke="#f2b060" stroke-width="0.8"/>
<text x="397.7" y="492" class="l">Lorentz curve for regional cooling energy consumption/CDD</text>
<line x1="363.3" y1="513.7" x2="390.8" y2="513.7" stroke="#564848" stroke-width="1.8"/>
<text x="396.8" y="516.9" class="l">Line of perfect equality</text>
</svg>
</body></html>
